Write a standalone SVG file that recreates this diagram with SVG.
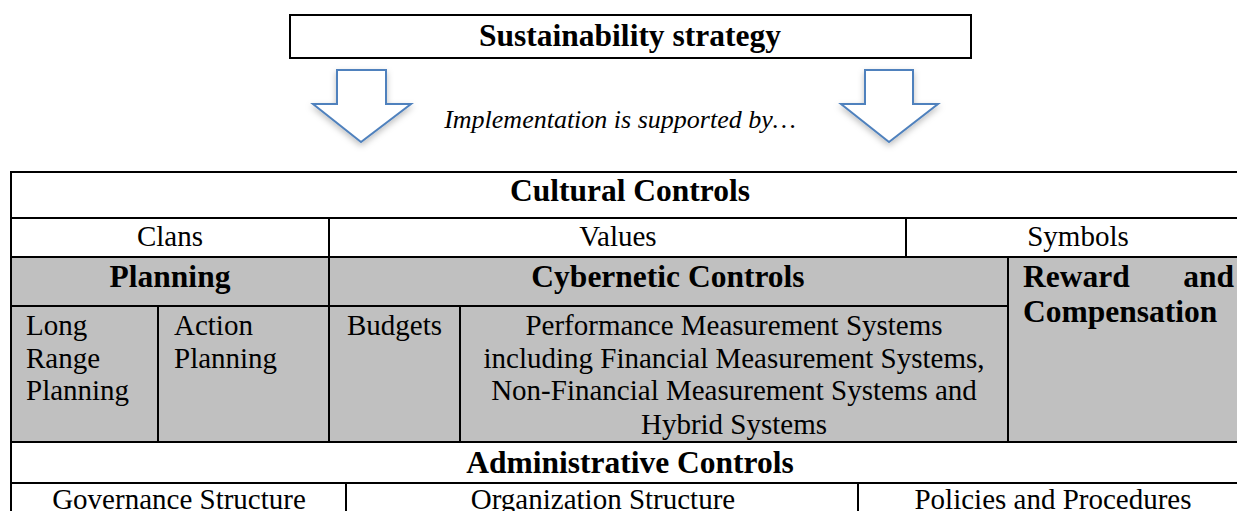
<svg xmlns="http://www.w3.org/2000/svg" width="1237" height="511" viewBox="0 0 1237 511">
<style>
.b{font-family:"Liberation Serif","Times New Roman",serif;font-weight:bold;font-size:31.5px;fill:#000}
.r{font-family:"Liberation Serif","Times New Roman",serif;font-size:29px;fill:#000}
.i{font-family:"Liberation Serif","Times New Roman",serif;font-style:italic;font-size:26px;fill:#000}
.c{text-anchor:middle}
.cell{stroke:#000;stroke-width:2;fill:#fff}
.g{fill:#c0c0c0}
.arr{fill:#fff;stroke:#4f81bd;stroke-width:2;filter:url(#sh)}
</style>
<defs>
<filter id="sh" x="-30%" y="-30%" width="160%" height="180%">
<feDropShadow dx="0" dy="3" stdDeviation="3" flood-color="#000" flood-opacity="0.25"/>
</filter>
</defs>
<rect width="1237" height="511" fill="#fff"/>
<g id="strategy">
<rect x="290" y="15" width="681" height="43" class="cell"/>
<text x="630" y="46" class="b c">Sustainability strategy</text>
</g>
<g id="connectors">
<polygon class="arr" points="337,70 386,70 386,104 411,104 361,142 313,104 337,104"/>
<polygon class="arr" points="865,70 913,70 913,104 938,104 889,142 841,104 865,104"/>
</g>
<g id="label">
<text x="620" y="128" class="i c">Implementation is supported by…</text>
</g>
<g id="table">
<rect x="11" y="257" width="1240" height="185" class="g"/>
<rect x="11" y="172" width="1240" height="350" fill="none" stroke="#000" stroke-width="2"/>
<g stroke="#000" stroke-width="2">
<line x1="11" y1="218" x2="1240" y2="218"/>
<line x1="11" y1="257" x2="1240" y2="257"/>
<line x1="11" y1="306" x2="1008" y2="306"/>
<line x1="11" y1="442" x2="1240" y2="442"/>
<line x1="11" y1="483" x2="1240" y2="483"/>
<line x1="329" y1="218" x2="329" y2="442"/>
<line x1="906" y1="218" x2="906" y2="257"/>
<line x1="1008" y1="257" x2="1008" y2="442"/>
<line x1="158" y1="306" x2="158" y2="442"/>
<line x1="460" y1="306" x2="460" y2="442"/>
<line x1="346" y1="483" x2="346" y2="511"/>
<line x1="858" y1="483" x2="858" y2="511"/>
</g>
</g>
<g id="cultural"><text x="630" y="201" class="b c">Cultural Controls</text></g>
<g id="clans"><text x="170" y="246" class="r c">Clans</text></g>
<g id="values"><text x="618" y="246" class="r c">Values</text></g>
<g id="symbols"><text x="1078" y="246" class="r c">Symbols</text></g>
<g id="planning"><text x="170" y="287" class="b c">Planning</text></g>
<g id="cybernetic"><text x="668" y="287" class="b c">Cybernetic Controls</text></g>
<g id="reward">
<text x="1023" y="287" class="b">Reward</text>
<text x="1234" y="287" class="b" text-anchor="end">and</text>
<text x="1023" y="322" class="b">Compensation</text>
</g>
<g id="longrange">
<text x="26" y="335" class="r">Long</text>
<text x="26" y="368" class="r">Range</text>
<text x="26" y="400" class="r">Planning</text>
</g>
<g id="action">
<text x="174" y="335" class="r">Action</text>
<text x="174" y="368" class="r">Planning</text>
</g>
<g id="budgets"><text x="347" y="335" class="r">Budgets</text></g>
<g id="pms">
<text x="734" y="335" class="r c">Performance Measurement Systems</text>
<text x="734" y="368" class="r c">including Financial Measurement Systems,</text>
<text x="734" y="400" class="r c">Non-Financial Measurement Systems and</text>
<text x="734" y="434" class="r c">Hybrid Systems</text>
</g>
<g id="administrative"><text x="630" y="473" class="b c">Administrative Controls</text></g>
<g id="governance"><text x="179" y="509" class="r c">Governance Structure</text></g>
<g id="organization"><text x="603" y="509" class="r c">Organization Structure</text></g>
<g id="policies"><text x="1053" y="509" class="r c">Policies and Procedures</text></g>
</svg>
